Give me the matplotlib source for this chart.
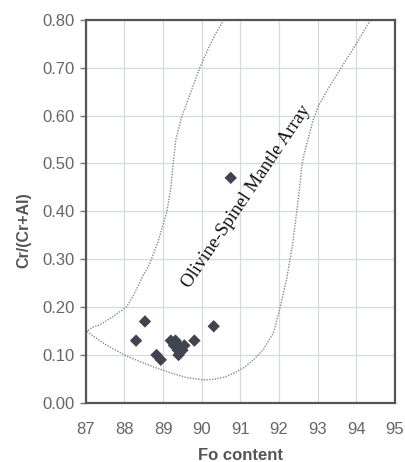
import matplotlib
matplotlib.use('Agg')
import matplotlib.pyplot as plt

# spinel / olivine analyses
fo = [90.75, 88.53, 88.30, 90.31, 89.81, 88.83, 88.94,
      89.20, 89.32, 89.28, 89.38, 89.45, 89.55, 89.40, 89.50, 89.35]
cr_num = [0.47, 0.17, 0.13, 0.16, 0.13, 0.10, 0.09,
          0.13, 0.13, 0.12, 0.11, 0.115, 0.12, 0.10, 0.11, 0.125]

# olivine-spinel mantle array envelope (dotted outline)
array_fo = [90.57, 90.35, 90.17, 89.95, 89.72, 89.48, 89.33, 89.26, 89.20,
            89.10, 88.87, 88.65, 88.48, 88.23, 88.05, 87.70, 87.36, 87.15,
            87.03, 87.10, 87.50, 88.05, 88.50, 88.92, 89.30, 89.60, 90.04,
            90.30, 90.60, 90.83, 91.10, 91.34, 91.60, 91.86, 92.03, 92.20,
            92.35, 92.46, 92.52, 92.59, 92.65, 92.75, 92.88, 93.02, 93.30,
            93.58, 94.00, 94.37]
array_cr = [0.80, 0.77, 0.74, 0.70, 0.65, 0.597, 0.55, 0.50, 0.45,
            0.40, 0.337, 0.29, 0.266, 0.224, 0.20, 0.18, 0.163, 0.157,
            0.15, 0.145, 0.122, 0.098, 0.083, 0.07, 0.06, 0.053, 0.048,
            0.049, 0.054, 0.062, 0.074, 0.09, 0.112, 0.147, 0.20, 0.26,
            0.33, 0.40, 0.44, 0.495, 0.52, 0.55, 0.59, 0.62, 0.66,
            0.696, 0.75, 0.80]

xticks = [87, 88, 89, 90, 91, 92, 93, 94, 95]
yticks = [0.0, 0.1, 0.2, 0.3, 0.4, 0.5, 0.6, 0.7, 0.8]

plt.rcParams['font.family'] = ['Liberation Sans', 'DejaVu Sans']

fig = plt.figure(figsize=(4.05, 4.62), dpi=100)
ax = fig.add_axes([0.212, 0.128, 0.763, 0.829])

ax.plot(array_fo, array_cr, color='#8a8a8a', lw=1.0, ls=(0, (1, 1)), zorder=2)
ax.scatter(fo, cr_num, marker='D', s=40, color='#3f4450', edgecolors='none', zorder=3)

ax.text(91.17, 0.43, 'Olivine-Spinel Mantle Array', rotation=56,
        family='Liberation Serif', fontsize=13.5, color='#111111',
        ha='center', va='center', rotation_mode='anchor')

ax.set_xlim(87, 95)
ax.set_ylim(0, 0.8)
ax.set_xticks(xticks)
ax.set_yticks(yticks)
ax.set_yticklabels([f'{v:.2f}' for v in yticks])
ax.grid(True, color='#d6d8e2', lw=0.9)
ax.set_axisbelow(True)

for s in ax.spines.values():
    s.set_color('#555555')
    s.set_linewidth(1.6)

ax.tick_params(axis='y', direction='out', length=4, width=1, color='#777777',
               labelsize=12, labelcolor='#666666', pad=4)
ax.tick_params(axis='x', direction='out', length=0, labelsize=12,
               labelcolor='#666666', pad=14)

ax.set_xlabel('Fo content', fontsize=12, fontweight='bold', color='#555555', labelpad=8)
ax.set_ylabel('Cr/(Cr+Al)', fontsize=11.5, fontweight='bold', color='#555555')
ax.yaxis.set_label_coords(-0.175, 0.45)

fig.savefig('out.png', dpi=100)
plt.close(fig)
